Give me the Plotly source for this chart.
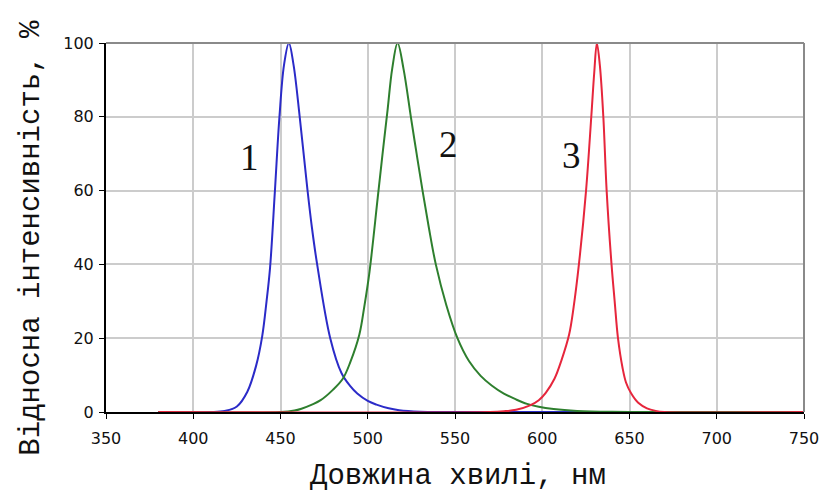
import plotly.graph_objects as go

# Wavelengths (nm) and relative intensities (%)
blue_wl = [380, 410, 418, 425, 431, 436, 439.5, 442, 444, 446.8, 449.4, 452, 454.8,
           457.5, 461, 465.5, 468, 471, 478.5, 485, 490, 494, 500, 505, 512, 518, 530, 545, 750]
blue_val = [0, 0, 0.3, 1.5, 5.5, 12.5, 20.5, 30, 39, 60, 80, 94, 100,
            94, 80, 60, 50, 40, 20, 10.5, 7, 5, 3, 2, 1, 0.5, 0.1, 0, 0]

green_wl = [380, 450, 458, 462, 468, 473, 480, 485.7, 490, 495.2, 498, 501, 505.7, 508.5,
            511.4, 514, 517.1, 520.5, 524.7, 528, 531.4, 535, 539, 545, 551.4, 558, 564.7,
            571, 578, 585, 591.3, 598, 606.5, 620, 640, 660, 750]
green_val = [0, 0, 0.4, 0.9, 2, 3.2, 6, 9, 13.5, 21, 28.5, 38, 58, 70,
             82, 93, 100, 93, 80, 70, 60, 50, 40, 29, 20, 13.8, 9.8,
             7.2, 5.0, 3.4, 2.2, 1.4, 0.8, 0.3, 0.05, 0, 0]

red_wl = [380, 570, 578, 585, 593, 598, 602, 607, 611, 615.4, 618, 621, 625.1, 628.1, 629.8,
          631.3, 633, 635, 636.9, 639.7, 641.5, 643.4, 646, 648, 651, 655, 660, 665, 670, 750]
red_val = [0, 0, 0.2, 0.6, 1.8, 3.2, 5.2, 9, 14, 21, 28.5, 40, 60, 80, 92,
           100, 94, 80, 60, 40, 30, 20, 12, 8, 5, 2.5, 1, 0.3, 0, 0]

x_ticks = [350, 400, 450, 500, 550, 600, 650, 700, 750]
y_ticks = [0, 20, 40, 60, 80, 100]

curve_labels = ["1", "2", "3"]
label_x = [432, 546, 617]
label_y = [69, 72.5, 69.5]

fig = go.Figure()
for wl, val, col in [(blue_wl, blue_val, "#2b2bc8"),
                     (green_wl, green_val, "#2e7f2e"),
                     (red_wl, red_val, "#e6263c")]:
    fig.add_trace(go.Scatter(x=wl, y=val, mode="lines",
                             line=dict(color=col, width=2, shape="spline", smoothing=1.0),
                             showlegend=False, hoverinfo="skip"))

for t, lx, ly in zip(curve_labels, label_x, label_y):
    fig.add_annotation(x=lx, y=ly, text=t, showarrow=False,
                       font=dict(family="Liberation Serif", size=37, color="#111"))

axis_common = dict(showgrid=True, gridcolor="#cccccc", gridwidth=2,
                   showline=True, linecolor="black", linewidth=2,
                   ticks="outside", ticklen=5, tickcolor="black", tickwidth=1,
                   tickfont=dict(family="DejaVu Sans", size=16, color="#111"),
                   zeroline=False)

fig.update_layout(
    width=831, height=495,
    margin=dict(l=106, r=24, t=43, b=83),
    plot_bgcolor="white", paper_bgcolor="white",
    xaxis=dict(range=[350, 750], tickvals=x_ticks, ticktext=[str(v) for v in x_ticks],
               ticklabelstandoff=6, **axis_common),
    yaxis=dict(range=[0, 100], tickvals=y_ticks, ticktext=[str(v) for v in y_ticks],
               ticklabelstandoff=2, **axis_common),
)

# top and right frame lines (grey)
fig.add_shape(type="line", xref="x domain", yref="y domain", x0=0, x1=1, y0=1, y1=1,
              line=dict(color="#8a8a8a", width=2))
fig.add_shape(type="line", xref="x domain", yref="y domain", x0=1, x1=1, y0=0, y1=1,
              line=dict(color="#8a8a8a", width=2))

fig.add_annotation(xref="paper", yref="paper", x=0.505, y=-0.174, yanchor="middle",
                   text="Довжина хвилі, нм", showarrow=False,
                   font=dict(family="Liberation Mono", size=29, color="#111"))
fig.add_annotation(xref="paper", yref="paper", x=-0.108, y=0.4715, xanchor="center",
                   yanchor="middle", textangle=-90, text="Відносна інтенсивність, %",
                   showarrow=False,
                   font=dict(family="Liberation Mono", size=29, color="#111"))

fig.write_html("out.html")
